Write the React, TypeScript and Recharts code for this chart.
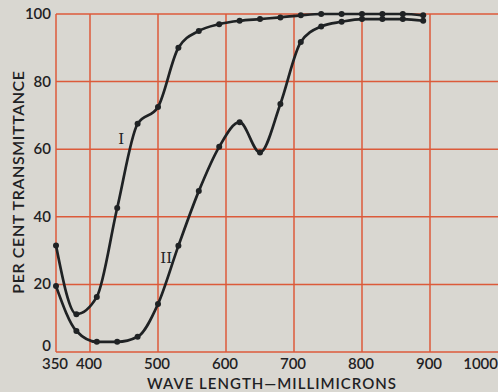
import React from 'react';
import { LineChart, Line, XAxis, YAxis, CartesianGrid, ReferenceDot } from 'recharts';

const wavelengths = [350, 380, 410, 440, 470, 500, 530, 560, 590, 620, 650, 680, 710, 740, 770, 800, 830, 860, 890];
const curveI = [31.5, 11.2, 16.3, 42.6, 67.5, 72.5, 90, 95, 97, 98, 98.5, 99, 99.6, 100, 100, 100, 100, 100, 99.6];
const curveII = [19.5, 6.2, 3, 3, 4.5, 14.2, 31.4, 47.6, 60.7, 68, 59, 73.4, 91.7, 96.3, 97.7, 98.5, 98.5, 98.5, 98];
const xTicks = [350, 400, 500, 600, 700, 800, 900, 1000];
const yTicks = [0, 20, 40, 60, 80, 100];
const gridX = [350, 400, 500, 600, 700, 800, 900];

const data = wavelengths.map((w, i) => ({ w, I: curveI[i], II: curveII[i] }));

const FONT = 'Lato, "DejaVu Sans", sans-serif';
const INK = '#1f2224';
const GRID = '#dc5a3a';
const BG = '#d9d7d1';

const XTick = (props: any) => {
  const v = props.payload.value;
  const last = v === 1000;
  return (
    <text x={last ? 498 : props.x - 1} y={369} textAnchor={last ? 'end' : 'middle'} fontFamily={FONT} fontSize={15} fontWeight={600} fill={INK}>
      {v}
    </text>
  );
};

const YTick = (props: any) => {
  const v = props.payload.value;
  return (
    <text x={51} y={v === 0 ? 351 : props.y + 5} textAnchor="end" fontFamily={FONT} fontSize={15} fontWeight={600} fill={INK}>
      {v}
    </text>
  );
};

export default function App() {
  return (
    <div style={{ position: 'absolute', left: 0, top: 0, width: 498, height: 392, background: BG, overflow: 'hidden' }}>
      <LineChart width={498} height={392} data={data} margin={{ top: 14, right: 0, left: 0, bottom: 0 }}>
        <CartesianGrid stroke={GRID} strokeWidth={1.5} verticalValues={gridX} horizontalValues={yTicks} />
        <XAxis
          dataKey="w"
          type="number"
          domain={[350, 1000]}
          ticks={xTicks}
          height={40}
          axisLine={false}
          tickLine={false}
          tick={XTick}
          interval={0}
          label={{
            content: () => (
              <text x={272} y={389} textAnchor="middle" fontFamily={FONT} fontSize={15} fontWeight={600} fill={INK} letterSpacing={1}>
                WAVE LENGTH—MILLIMICRONS
              </text>
            ),
          }}
        />
        <YAxis
          type="number"
          domain={[0, 100]}
          ticks={yTicks}
          width={56}
          axisLine={false}
          tickLine={false}
          tick={YTick}
          interval={0}
          label={{
            content: () => (
              <text x={24} y={182} transform="rotate(-90 24 182)" textAnchor="middle" fontFamily={FONT} fontSize={16} fontWeight={600} fill={INK} letterSpacing={0.6}>
                PER CENT TRANSMITTANCE
              </text>
            ),
          }}
        />
        <Line type="monotone" dataKey="I" stroke={INK} strokeWidth={2.7} dot={{ r: 3, fill: INK, stroke: INK, strokeWidth: 0 }} isAnimationActive={false} />
        <Line type="monotone" dataKey="II" stroke={INK} strokeWidth={2.7} dot={{ r: 3, fill: INK, stroke: INK, strokeWidth: 0 }} isAnimationActive={false} />
        <ReferenceDot x={446} y={63} r={0} fill="none" stroke="none" label={{ value: 'I', position: 'center', fill: INK, fontFamily: 'DejaVu Serif, serif', fontSize: 15 }} />
        <ReferenceDot x={512} y={28} r={0} fill="none" stroke="none" label={{ value: 'II', position: 'center', fill: INK, fontFamily: 'DejaVu Serif, serif', fontSize: 15 }} />
      </LineChart>
    </div>
  );
}
